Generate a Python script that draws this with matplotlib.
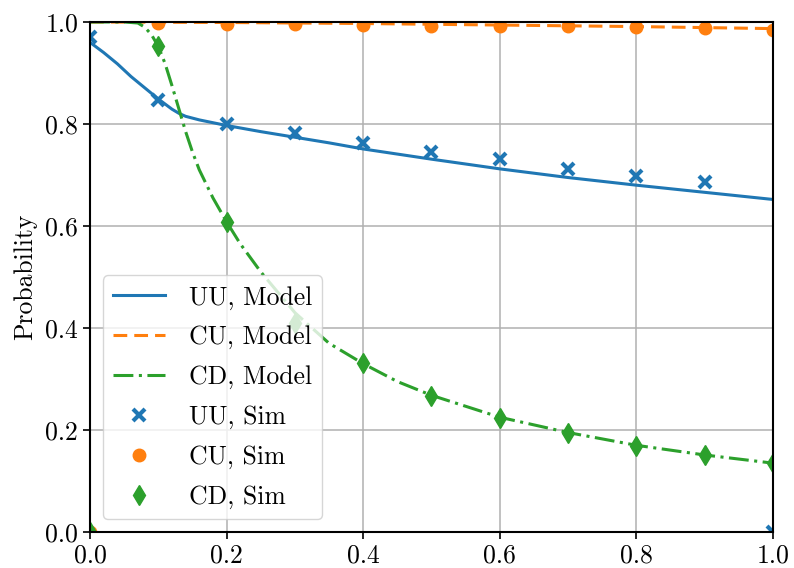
import matplotlib
matplotlib.use("Agg")
import matplotlib.pyplot as plt

plt.rcParams['font.family'] = 'serif'
plt.rcParams['font.serif'] = ['cmr10']
plt.rcParams['mathtext.fontset'] = 'cm'
plt.rcParams['axes.formatter.use_mathtext'] = True

# Model curves
uu_model_x = [0.0, 0.02, 0.04, 0.06, 0.08, 0.10, 0.12, 0.13, 0.14, 0.16, 0.20, 0.25, 0.30, 0.35,
              0.40, 0.50, 0.60, 0.70, 0.80, 0.90, 1.00]
uu_model_y = [0.960, 0.940, 0.918, 0.893, 0.871, 0.849, 0.829, 0.821, 0.815, 0.808, 0.797, 0.785,
              0.774, 0.763, 0.751, 0.731, 0.712, 0.695, 0.680, 0.666, 0.652]

cu_model_x = [0.0, 0.2, 0.4, 0.6, 0.8, 1.0]
cu_model_y = [1.0, 0.999, 0.997, 0.994, 0.991, 0.987]

cd_model_x = [0.0, 0.05, 0.07, 0.08, 0.09, 0.10, 0.11, 0.12, 0.13, 0.14, 0.15, 0.16, 0.18, 0.20,
              0.22, 0.25, 0.30, 0.35, 0.40, 0.45, 0.50, 0.60, 0.70, 0.80, 0.90, 1.00]
cd_model_y = [1.0, 1.0, 0.998, 0.99, 0.975, 0.952, 0.918, 0.875, 0.83, 0.785, 0.745, 0.71, 0.655,
              0.608, 0.565, 0.51, 0.43, 0.37, 0.33, 0.295, 0.268, 0.225, 0.195, 0.170, 0.151, 0.135]

# Simulation points
sim_x = [0.0, 0.1, 0.2, 0.3, 0.4, 0.5, 0.6, 0.7, 0.8, 0.9, 1.0]
uu_sim = [0.97, 0.848, 0.80, 0.782, 0.762, 0.746, 0.731, 0.712, 0.698, 0.687, 0.0]
cu_sim = [0.0, 0.998, 0.997, 0.996, 0.995, 0.993, 0.992, 0.992, 0.990, 0.988, 0.985]
cd_sim = [0.0, 0.952, 0.608, 0.41, 0.331, 0.266, 0.224, 0.194, 0.169, 0.151, 0.135]

c_blue, c_orange, c_green = '#1f77b4', '#ff7f0e', '#2ca02c'
FS = 18.5

fig = plt.figure(figsize=(7.94, 5.68), dpi=100)
ax = fig.add_axes([0.1134, 0.0634, 0.8601, 0.8979])

ax.plot(uu_model_x, uu_model_y, '-', color=c_blue, lw=2.2, label='UU, Model')
ax.plot(cu_model_x, cu_model_y, '--', color=c_orange, lw=2.2, dashes=(4.5, 2.3), label='CU, Model')
ax.plot(cd_model_x, cd_model_y, '-.', color=c_green, lw=2.2, dashes=(6.5, 1.8, 1, 1.8), label='CD, Model')
ax.plot(sim_x, uu_sim, 'x', color=c_blue, ms=8, mew=3, label='UU, Sim')
ax.plot(sim_x, cu_sim, 'o', color=c_orange, ms=9, label='CU, Sim')
ax.plot(sim_x, cd_sim, 'd', color=c_green, ms=10, label='CD, Sim')

ax.set_xlim(0, 1)
ax.set_ylim(0, 1)
ax.set_xticks([0, 0.2, 0.4, 0.6, 0.8, 1.0])
ax.set_yticks([0, 0.2, 0.4, 0.6, 0.8, 1.0])
ax.xaxis.set_major_formatter(matplotlib.ticker.FormatStrFormatter('%.1f'))
ax.yaxis.set_major_formatter(matplotlib.ticker.FormatStrFormatter('%.1f'))
ax.grid(True, color='#b0b0b0', lw=1.1)
ax.tick_params(labelsize=FS, width=1.2, length=5)
for s in ax.spines.values():
    s.set_linewidth(1.5)
ax.set_ylabel('Probability', fontsize=FS, labelpad=6)

ax.legend(loc='lower left', fontsize=FS, labelspacing=0.62, handletextpad=0.95)

fig.savefig('out.png', dpi=100)
